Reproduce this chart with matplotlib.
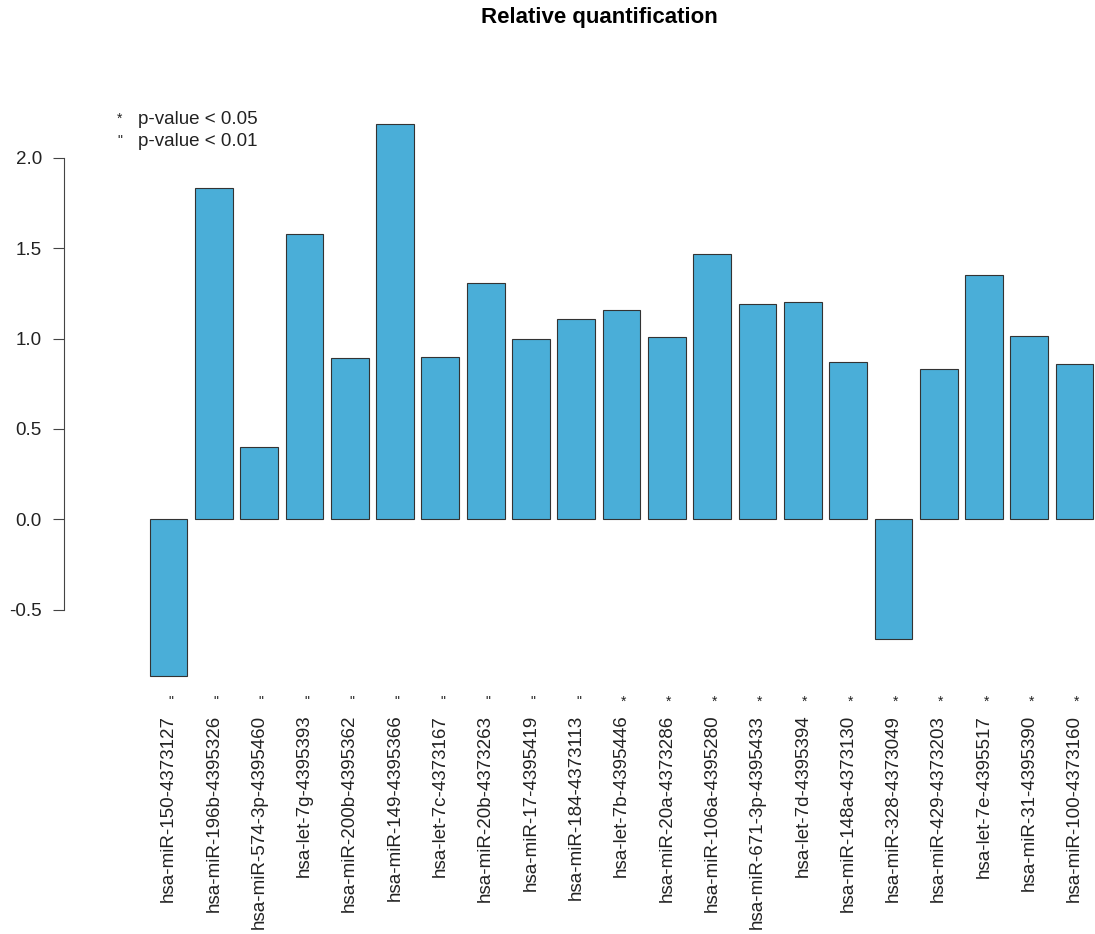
import matplotlib
matplotlib.use("Agg")
import matplotlib.pyplot as plt
import numpy as np

plt.rcParams['font.family'] = ['Liberation Sans', 'DejaVu Sans']

# miRNA assays and their relative quantification values
mirnas = ["hsa-miR-150-4373127", "hsa-miR-196b-4395326", "hsa-miR-574-3p-4395460",
          "hsa-let-7g-4395393", "hsa-miR-200b-4395362", "hsa-miR-149-4395366",
          "hsa-let-7c-4373167", "hsa-miR-20b-4373263", "hsa-miR-17-4395419",
          "hsa-miR-184-4373113", "hsa-let-7b-4395446", "hsa-miR-20a-4373286",
          "hsa-miR-106a-4395280", "hsa-miR-671-3p-4395433", "hsa-let-7d-4395394",
          "hsa-miR-148a-4373130", "hsa-miR-328-4373049", "hsa-miR-429-4373203",
          "hsa-let-7e-4395517", "hsa-miR-31-4395390", "hsa-miR-100-4373160"]
rq = [-0.87, 1.835, 0.40, 1.58, 0.89, 2.19, 0.90, 1.31, 1.00, 1.11, 1.16,
      1.01, 1.47, 1.19, 1.20, 0.87, -0.665, 0.83, 1.35, 1.016, 0.86]
signif = ['"'] * 10 + ['*'] * 11

fig = plt.figure(figsize=(10.95, 9.34), dpi=100)
ax = fig.add_axes([64 / 1095, 236 / 934, 1031 / 1095, 596 / 934])

x = np.arange(len(mirnas))
ax.bar(x, rq, width=0.833, color="#4aaed8", edgecolor="#333333", linewidth=0.8)

ax.set_xlim(-2.307, 20.45)
ax.set_ylim(-0.99, 2.31)

for s in ["top", "right", "bottom"]:
    ax.spines[s].set_visible(False)
ax.spines["left"].set_bounds(-0.5, 2.0)
ax.spines["left"].set_color("#444444")

ax.set_yticks([-0.5, 0.0, 0.5, 1.0, 1.5, 2.0])
ax.set_yticklabels(["-0.5", "0.0", "0.5", "1.0", "1.5", "2.0"])
ax.tick_params(axis="y", length=8, width=0.8, color="#444444", pad=8,
               labelsize=13.5, labelcolor="#222222")

ax.set_xticks(x)
ax.set_xticklabels(mirnas, rotation=90, fontsize=13.5, color="#222222")
ax.tick_params(axis="x", length=0, pad=12)

# significance markers under each bar
for xi, s in zip(x, signif):
    ax.annotate(s, xy=(xi, 0), xycoords=("data", "axes fraction"),
                xytext=(1.5, -3), textcoords="offset points",
                ha="center", va="center", fontsize=10, color="#222222")

# legend for markers
fig.text(120 / 1095, 1 - 119 / 934, "*", fontsize=10, ha="center", va="center", color="#222222")
fig.text(138 / 1095, 1 - 119 / 934, "p-value < 0.05", fontsize=13.5, va="center", color="#222222")
fig.text(120 / 1095, 1 - 141 / 934, '"', fontsize=10, ha="center", va="center", color="#222222")
fig.text(138 / 1095, 1 - 141 / 934, "p-value < 0.01", fontsize=13.5, va="center", color="#222222")

fig.text(599 / 1095, 1 - 18 / 934, "Relative quantification", fontsize=16,
         fontweight="bold", ha="center", va="center")

fig.savefig("out.png", dpi=100)
